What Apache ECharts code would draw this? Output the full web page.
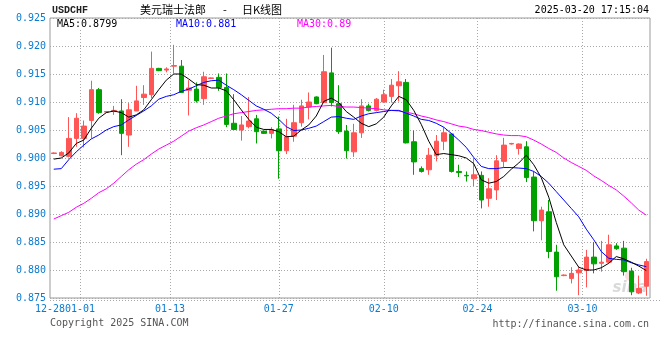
<!DOCTYPE html>
<html><head><meta charset="utf-8">
<script src="https://cdn.jsdelivr.net/npm/echarts@6/dist/echarts.min.js"></script>
<style>html,body{margin:0;padding:0;background:#fff}#c{width:660px;height:360px}</style>
</head><body><div id="c"></div>
<script>
const dates = ['12-28','12-29','12-30','12-31','01-01','01-02','01-03','01-04','01-05','01-06',
'01-07','01-08','01-09','01-10','01-11','01-12','01-13','01-14','01-15','01-16',
'01-17','01-18','01-19','01-20','01-21','01-22','01-23','01-24','01-25','01-26',
'01-27','01-28','01-29','01-30','01-31','02-01','02-02','02-03','02-04','02-05',
'02-06','02-07','02-08','02-09','02-10','02-11','02-12','02-13','02-14','02-15',
'02-17','02-18','02-19','02-20','02-21','02-22','02-24','02-25','02-26','02-27',
'02-28','03-01','03-02','03-03','03-04','03-05','03-06','03-07','03-08','03-09',
'03-10','03-11','03-12','03-13','03-14','03-15','03-17','03-18','03-19','03-20'];

const opens = [0.9008,0.9004,0.9003,0.9035,0.9035,0.9067,0.9122,0.9082,0.9083,0.9084,
0.9041,0.9084,0.9108,0.9113,0.9160,0.9157,0.9164,0.9164,0.9121,0.9123,
0.9106,0.9142,0.9144,0.9126,0.9062,0.9050,0.9056,0.9070,0.9048,0.9044,
0.9052,0.9013,0.9039,0.9063,0.9091,0.9109,0.9099,0.9152,0.9097,0.9048,
0.9011,0.9045,0.9093,0.9085,0.9100,0.9110,0.9129,0.9135,0.9029,0.8981,
0.8979,0.9004,0.9030,0.9043,0.8976,0.8969,0.8963,0.8969,0.8928,0.8943,
0.8994,0.9025,0.9017,0.9020,0.8966,0.8888,0.8904,0.8832,0.8790,0.8785,
0.8795,0.8799,0.8823,0.8812,0.8814,0.8843,0.8839,0.8798,0.8759,0.8771];
const closes = [0.9009,0.9010,0.9035,0.9071,0.9057,0.9122,0.9081,0.9083,0.9085,0.9044,
0.9086,0.9102,0.9114,0.9160,0.9156,0.9159,0.9165,0.9117,0.9125,0.9102,
0.9145,0.9143,0.9126,0.9060,0.9051,0.9059,0.9066,0.9047,0.9044,0.9051,
0.9013,0.9038,0.9063,0.9093,0.9100,0.9097,0.9154,0.9099,0.9047,0.9013,
0.9045,0.9093,0.9085,0.9105,0.9113,0.9130,0.9136,0.9027,0.8993,0.8976,
0.9005,0.9030,0.9045,0.8976,0.8974,0.8968,0.8970,0.8925,0.8945,0.8995,
0.9023,0.9026,0.9025,0.8965,0.8888,0.8907,0.8833,0.8788,0.8791,0.8794,
0.8800,0.8823,0.8811,0.8814,0.8845,0.8838,0.8797,0.8761,0.8767,0.8815];
const lows = [0.9007,0.9003,0.9001,0.9020,0.9019,0.9035,0.9079,0.9081,0.9077,0.9005,
0.9020,0.9084,0.9095,0.9107,0.9155,0.9153,0.9151,0.9116,0.9076,0.9099,
0.9095,0.9141,0.9120,0.9055,0.9050,0.9031,0.9053,0.9026,0.9043,0.9035,
0.8963,0.9007,0.9029,0.9056,0.9069,0.9096,0.9098,0.9092,0.9043,0.8999,
0.9002,0.9036,0.9083,0.9083,0.9099,0.9099,0.9101,0.9026,0.8970,0.8974,
0.8970,0.8994,0.9014,0.8974,0.8966,0.8958,0.8950,0.8910,0.8913,0.8925,
0.8984,0.9024,0.9006,0.8957,0.8869,0.8853,0.8821,0.8763,0.8789,0.8776,
0.8755,0.8769,0.8794,0.8797,0.8812,0.8836,0.8790,0.8755,0.8757,0.8754];
const highs = [0.9010,0.9012,0.9073,0.9080,0.9067,0.9138,0.9125,0.9084,0.9093,0.9105,
0.9098,0.9129,0.9130,0.9190,0.9161,0.9162,0.9202,0.9175,0.9139,0.9135,
0.9154,0.9144,0.9151,0.9151,0.9114,0.9075,0.9109,0.9077,0.9049,0.9055,
0.9074,0.9070,0.9095,0.9104,0.9117,0.9110,0.9184,0.9197,0.9130,0.9059,
0.9061,0.9105,0.9097,0.9107,0.9122,0.9141,0.9155,0.9141,0.9049,0.8985,
0.9018,0.9041,0.9055,0.9044,0.8988,0.8976,0.9000,0.8976,0.8964,0.9005,
0.9036,0.9027,0.9026,0.9030,0.8976,0.8913,0.8925,0.8845,0.8792,0.8805,
0.8806,0.8836,0.8850,0.8852,0.8863,0.8848,0.8852,0.8804,0.8790,0.8820];

const ma5 = [0.8998,0.9000,0.9009,0.9026,0.9032,0.9053,0.9071,0.9081,0.9084,0.9081,
0.9073,0.9077,0.9086,0.9104,0.9122,0.9139,0.9150,0.9150,0.9141,0.9131,
0.9130,0.9125,0.9125,0.9120,0.9104,0.9086,0.9069,0.9055,0.9051,0.9051,
0.9047,0.9038,0.9039,0.9050,0.9059,0.9075,0.9101,0.9107,0.9099,0.9083,
0.9073,0.9062,0.9056,0.9061,0.9073,0.9093,0.9110,0.9104,0.9085,0.9060,
0.9030,0.9006,0.9008,0.9006,0.9004,0.9000,0.8990,0.8961,0.8955,0.8958,
0.8967,0.8980,0.8991,0.9005,0.8988,0.8965,0.8930,0.8885,0.8845,0.8825,
0.8805,0.8800,0.8800,0.8804,0.8812,0.8824,0.8820,0.8814,0.8807,0.8799];
const ma10 = [0.8980,0.8981,0.8997,0.9011,0.9023,0.9034,0.9041,0.9050,0.9056,0.9059,
0.9068,0.9076,0.9084,0.9093,0.9105,0.9110,0.9113,0.9119,0.9123,0.9129,
0.9135,0.9138,0.9139,0.9130,0.9122,0.9113,0.9103,0.9093,0.9087,0.9080,
0.9069,0.9056,0.9049,0.9050,0.9053,0.9057,0.9065,0.9073,0.9074,0.9071,
0.9069,0.9075,0.9079,0.9081,0.9083,0.9085,0.9085,0.9080,0.9075,0.9069,
0.9067,0.9062,0.9055,0.9044,0.9032,0.9019,0.9001,0.8985,0.8981,0.8981,
0.8983,0.8983,0.8982,0.8981,0.8976,0.8967,0.8955,0.8940,0.8925,0.8910,
0.8895,0.8873,0.8854,0.8833,0.8821,0.8819,0.8818,0.8813,0.8809,0.8806];
const ma30 = [0.8891,0.8897,0.8903,0.8912,0.8919,0.8928,0.8938,0.8945,0.8955,0.8967,
0.8979,0.8989,0.8997,0.9007,0.9016,0.9023,0.9030,0.9039,0.9048,0.9054,
0.9059,0.9065,0.9071,0.9075,0.9079,0.9081,0.9083,0.9085,0.9086,0.9087,
0.9088,0.9088,0.9089,0.9089,0.9091,0.9092,0.9093,0.9094,0.9092,0.9091,
0.9091,0.9090,0.9089,0.9088,0.9086,0.9085,0.9084,0.9082,0.9079,0.9075,
0.9072,0.9068,0.9065,0.9061,0.9057,0.9055,0.9051,0.9049,0.9046,0.9043,
0.9041,0.9040,0.9040,0.9038,0.9032,0.9025,0.9017,0.9010,0.9000,0.8992,
0.8985,0.8978,0.8968,0.8960,0.8951,0.8943,0.8932,0.8920,0.8907,0.8898];

// date tick labels and where they fall, in candle units from the left edge
const tickLabels = ['12-28','01-01','01-13','01-27','02-10','02-24','03-10'];
const tickAt = [0, 4, 16, 30.5, 44.5, 57, 71];

const legendTexts = ['MA5:0.8799','MA10:0.881','MA30:0.89'];

const N = dates.length;
const slots = [];
for (let j = 0; j <= 2 * N; j++) slots.push('');
const tickSlots = new Set();
tickAt.forEach((p, k) => { const s = Math.round(p * 2); slots[s] = tickLabels[k]; tickSlots.add(s); });

const kData = dates.map((d, i) => [opens[i], closes[i], lows[i], highs[i]]);

const MONO = "'DejaVu Sans Mono', 'Liberation Mono', monospace";
const BLUE = '#0a7bd0';
const UP = '#ff5555', DOWN = '#00a000';
const dotted = { type: [1, 2], color: '#a8a8a8', width: 1 };

const chart = echarts.init(document.getElementById('c'), null, { renderer: 'canvas' });
chart.setOption({
  animation: false,
  backgroundColor: '#fff',
  grid: { left: 50, right: 10, top: 18, bottom: 62, show: true, borderColor: '#9a9a9a', borderWidth: 1 },
  xAxis: [
    { type: 'category', data: dates, boundaryGap: true,
      axisLine: { show: false }, axisTick: { show: false }, axisLabel: { show: false }, splitLine: { show: false } },
    { type: 'category', data: slots, boundaryGap: false, position: 'bottom',
      axisLine: { show: false }, axisTick: { show: false },
      axisLabel: { interval: (i) => tickSlots.has(i), color: BLUE, fontFamily: MONO, fontSize: 10, margin: 6 },
      splitLine: { show: true, interval: (i) => tickSlots.has(i) && i > 0, lineStyle: dotted } }
  ],
  yAxis: {
    type: 'value', min: 0.875, max: 0.925, interval: 0.005, scale: true,
    axisLine: { show: false }, axisTick: { show: false },
    axisLabel: { formatter: (v) => v.toFixed(3), color: BLUE, fontFamily: MONO, fontSize: 10, margin: 4 },
    splitLine: { lineStyle: dotted }
  },
  series: [
    { type: 'candlestick', xAxisIndex: 0, data: kData, barWidth: 5,
      itemStyle: { color: UP, color0: DOWN, borderColor: UP, borderColor0: DOWN, borderWidth: 1 } },
    { type: 'line', xAxisIndex: 0, data: ma30, symbol: 'none', silent: true, lineStyle: { color: '#ff00ff', width: 1 } },
    { type: 'line', xAxisIndex: 0, data: ma10, symbol: 'none', silent: true, lineStyle: { color: '#0000ff', width: 1 } },
    { type: 'line', xAxisIndex: 0, data: ma5, symbol: 'none', silent: true, lineStyle: { color: '#000000', width: 1 } }
  ],
  graphic: [
    { type: 'text', x: 52, y: 10, style: { text: 'USDCHF', fill: '#222', font: "bold 10px 'Liberation Mono', monospace", textVerticalAlign: 'middle' } },
    { type: 'text', x: 140, y: 10, style: { text: '美元瑞士法郎', fill: '#000', font: "11px 'Noto Sans CJK SC', sans-serif", textVerticalAlign: 'middle' } },
    { type: 'text', x: 225, y: 10, style: { text: '-', fill: '#000', font: "11px 'Noto Sans CJK SC', sans-serif", textAlign: 'center', textVerticalAlign: 'middle' } },
    { type: 'text', x: 242, y: 10, style: { text: '日K线图', fill: '#000', font: "11px 'Noto Sans CJK SC', sans-serif", textVerticalAlign: 'middle' } },
    { type: 'text', x: 649, y: 10, style: { text: '2025-03-20 17:15:04', fill: '#000', font: '10px ' + MONO, textAlign: 'right', textVerticalAlign: 'middle' } },
    { type: 'text', x: 55, y: 24, z: 100, style: { text: legendTexts[0], fill: '#000', font: '10px ' + MONO, textVerticalAlign: 'middle', backgroundColor: '#fff', padding: [0, 2] } },
    { type: 'text', x: 173, y: 24, z: 100, style: { text: legendTexts[1], fill: '#0000ff', font: '10px ' + MONO, textVerticalAlign: 'middle', backgroundColor: '#fff', padding: [0, 3] } },
    { type: 'text', x: 295, y: 24, z: 100, style: { text: legendTexts[2], fill: '#ff00ff', font: '10px ' + MONO, textVerticalAlign: 'middle', backgroundColor: '#fff', padding: [0, 2] } },
    { type: 'line', z: 100, shape: { x1: 50, y1: 300.5, x2: 660, y2: 300.5 }, style: { stroke: '#a8a8a8', lineWidth: 1, lineDash: [1, 2] } },
    { type: 'text', x: 50, y: 323, style: { text: 'Copyright 2025 SINA.COM', fill: '#555', font: '10px ' + MONO, textVerticalAlign: 'middle' } },
    { type: 'text', x: 649, y: 324, style: { text: 'http://finance.sina.com.cn', fill: '#555', font: '10px ' + MONO, textAlign: 'right', textVerticalAlign: 'middle' } },
    { type: 'circle', z: 1, shape: { cx: 630, cy: 276, r: 5 }, style: { fill: 'rgba(240,150,150,0.3)' } },
    { type: 'text', x: 630, y: 288, z: 1, style: { text: 'sina', fill: 'rgba(170,170,170,0.45)', font: "italic bold 15px 'DejaVu Sans', sans-serif", textAlign: 'center', textVerticalAlign: 'middle' } }
  ]
});
</script></body></html>
